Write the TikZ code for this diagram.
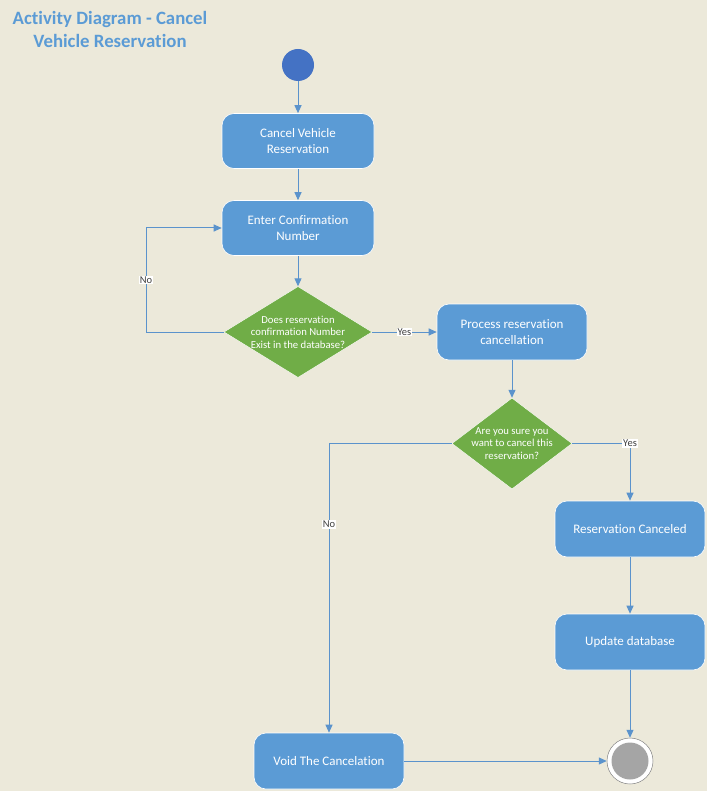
\documentclass[tikz,border=0pt]{standalone}
\usepackage{fontspec}
\setmainfont{Carlito}[Ligatures=NoCommon]
\usetikzlibrary{shapes.geometric,arrows.meta}
\definecolor{bgc}{RGB}{236,233,218}
\definecolor{boxc}{RGB}{91,155,213}
\definecolor{startc}{RGB}{68,114,196}
\definecolor{decc}{RGB}{112,173,71}
\definecolor{linec}{RGB}{91,147,204}
\definecolor{titlec}{RGB}{91,155,213}
\definecolor{endc}{RGB}{165,165,165}
\tikzset{
  act/.style={rectangle, rounded corners=12pt, fill=boxc, draw=white, line width=0.6pt,
    minimum width=150pt, minimum height=56pt, text=white, align=center,
    font=\fontsize{13}{16}\selectfont},
  decision/.style={diamond, fill=decc, draw=white, line width=0.4pt, inner sep=0pt},
  dectext/.style={text=white, align=center, inner sep=0pt, font=\fontsize{10.7}{12.5}\selectfont},
  flow/.style={draw=linec, line width=1pt, -{Triangle[length=8pt,width=7pt]}},
  guard/.style={fill=white, text=black!75, inner sep=1pt, font=\fontsize{10.5}{11}\selectfont},
}
\begin{document}
\begin{tikzpicture}[x=1pt,y=-1pt]
\fill[bgc] (0,0) rectangle (707,791);
\useasboundingbox (0,0) rectangle (707,791);

% heading
\node[text=titlec, font=\bfseries\fontsize{18.8}{23}\selectfont, align=center] (title) at (110,29)
  {Activity Diagram - Cancel\\Vehicle Reservation};

% initial node
\node[circle, fill=startc, minimum size=32pt, inner sep=0pt] (start) at (298,65) {};

% activities
\node[act, minimum width=152pt, minimum height=55pt] (cancel) at (298,141) {Cancel Vehicle\\Reservation};
\node[act, minimum width=152pt, minimum height=55pt] (enter) at (298,228) {Enter Confirmation\\Number};
\node[decision, minimum width=148pt, minimum height=91pt] (exists) at (298,332) {};
\node[dectext] (existstext) at (exists.center)
  {Does reservation\\confirmation Number\\Exist in the database?};
\node[act] (process) at (512,332) {Process reservation\\cancellation};
\node[decision, minimum width=120pt, minimum height=91pt] (sure) at (512,443.5) {};
\node[dectext] (suretext) at (sure.center)
  {Are you sure you\\want to cancel this\\reservation?};
\node[act] (canceled) at (630,529) {Reservation Canceled};
\node[act] (update) at (630,642) {Update database};
\node[act] (void) at (329,761) {Void The Cancelation};

% final node
\node[circle, fill=white, draw=endc!80!black, line width=0.5pt, minimum size=46pt, inner sep=0pt] (final) at (630,761) {};
\node[circle, fill=endc, minimum size=37pt, inner sep=0pt] (finalin) at (630,761) {};

% bend points
\coordinate (noloop1) at (146,332);
\coordinate (noloop2) at (146,228);
\coordinate (yesbend) at (630,443.5);
\coordinate (nobend) at (329,443.5);

% control flows
\draw[flow] (start) -- (cancel);
\draw[flow] (cancel) -- (enter);
\draw[flow] (enter) -- (exists.north);
\draw[flow] (exists.west) -- (noloop1) -- node[guard, pos=0.5] (no1) {No} (noloop2) -- (enter.west);
\draw[flow] (exists.east) -- node[guard, pos=0.5] (yes1) {Yes} (process.west);
\draw[flow] (process) -- (sure.north);
\draw[flow] (sure.east) -- (yesbend) node[guard] (yes2) {Yes} -- (canceled.north);
\draw[flow] (canceled) -- (update);
\draw[flow] (update) -- (final.north);
\draw[flow] (sure.west) -- (nobend) -- node[guard, pos=0.28] (no2) {No} (void.north);
\draw[flow] (void.east) -- (final.west);
\end{tikzpicture}
\end{document}
